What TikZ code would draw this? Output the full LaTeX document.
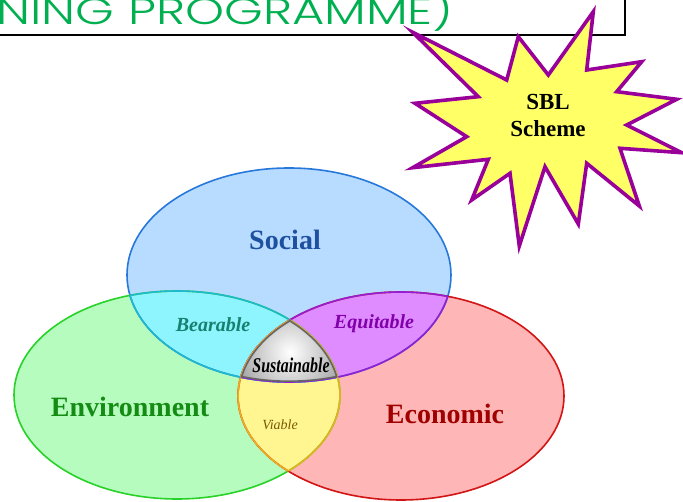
\documentclass[tikz,border=0pt]{standalone}
\usepackage{fontspec}
\setmainfont{Liberation Serif}
\newfontfamily\titlefont{Poppins}[UprightFont={* Light}]
\usepackage{xcolor}
\usetikzlibrary{positioning}

\definecolor{titlegreen}{RGB}{0,176,80}
\definecolor{starfill}{RGB}{255,255,102}
\definecolor{starline}{RGB}{153,0,153}
\definecolor{socialfill}{RGB}{184,220,255}
\definecolor{socialline}{RGB}{40,120,220}
\definecolor{socialtext}{RGB}{30,80,160}
\definecolor{envfill}{RGB}{181,252,190}
\definecolor{envline}{RGB}{40,210,40}
\definecolor{envtext}{RGB}{20,140,20}
\definecolor{econfill}{RGB}{255,182,182}
\definecolor{econline}{RGB}{210,20,20}
\definecolor{econtext}{RGB}{160,0,0}
\definecolor{bearfill}{RGB}{142,245,255}
\definecolor{bearline}{RGB}{30,185,205}
\definecolor{beartext}{RGB}{20,130,110}
\definecolor{equifill}{RGB}{222,140,255}
\definecolor{equiline}{RGB}{150,30,210}
\definecolor{equitext}{RGB}{130,0,170}
\definecolor{viafill}{RGB}{255,245,145}
\definecolor{vialine}{RGB}{235,175,30}
\definecolor{viatext}{RGB}{120,90,0}

\def\socialshape{(289,275) ellipse [x radius=162, y radius=107]}
\def\envshape{(177,395) ellipse [x radius=163, y radius=104]}
\def\econshape{(401,396) ellipse [x radius=163, y radius=104]}

\begin{document}
\begin{tikzpicture}[x=1pt, y=-1pt,
		biglabel/.style={font=\bfseries\fontsize{28}{30}\selectfont, inner sep=0},
		midlabel/.style={font=\bfseries\itshape\fontsize{20}{22}\selectfont, inner sep=0},
		ring/.style={line width=1.6}]
				\useasboundingbox (0,0) rectangle (683,502);
				
				%Title box
				\draw[line width=1.8, fill=white] (-10,-10) rectangle (625,35);
				\node[anchor=base east, text=titlegreen, inner sep=0, xscale=1.34,
					font=\titlefont\fontsize{37}{37}\selectfont] (title) at (454,25) {NING PROGRAMME)};
				
				%Star
				\filldraw[fill=starfill, draw=starline, line width=3.6, line join=miter]
					(412.7,32.3) -- (506.7,80) -- (518.3,36.7) -- (548.3,75) -- (593.3,11.7)
					-- (586.7,70) -- (641.7,61.7) -- (616.7,91.7) -- (676.7,99.3) -- (626.7,125)
					-- (681.7,152.7) -- (620,148.3) -- (639.3,206) -- (586.7,163.3) -- (578.3,224)
					-- (545,166.7) -- (519.3,246) -- (510,173.3) -- (471.7,200) -- (488.3,159.3)
					-- (412.7,167.7) -- (466.7,136.7) -- (415,103.3) -- (478.3,96.7) -- cycle;
				\node[align=center, font=\bfseries\fontsize{23}{27}\selectfont, inner sep=0] (sbl) at (548,116) {SBL\\Scheme};
				
				%Circles
				\fill[socialfill] \socialshape;
				\fill[envfill] \envshape;
				\fill[econfill] \econshape;
				
				%Overlaps
				\begin{scope}
					\clip \socialshape;
					\fill[bearfill] \envshape;
					\fill[equifill] \econshape;
				\end{scope}
				\begin{scope}
					\clip \envshape;
					\fill[viafill] \econshape;
				\end{scope}
				\begin{scope}
					\clip \socialshape;
					\clip \envshape;
					\clip \econshape;
					\shade[inner color=white, outer color=gray!85] (290,352) circle (66);
				\end{scope}
				
				%Outlines
				\draw[ring, socialline] \socialshape;
				\draw[ring, envline] \envshape;
				\draw[ring, econline] \econshape;
				\begin{scope}
					\clip \socialshape;
					\draw[ring, bearline] \envshape;
					\draw[ring, equiline] \econshape;
				\end{scope}
				\begin{scope}
					\clip \envshape;
					\draw[ring, bearline] \socialshape;
					\draw[ring, vialine] \econshape;
				\end{scope}
				\begin{scope}
					\clip \econshape;
					\draw[ring, equiline] \socialshape;
					\draw[ring, vialine] \envshape;
				\end{scope}
				\begin{scope}
					\clip \socialshape;
					\clip \envshape;
					\clip \econshape;
					\draw[line width=3.2, gray!80!black] \socialshape;
					\draw[line width=3.2, gray!80!black] \envshape;
					\draw[line width=3.2, gray!80!black] \econshape;
				\end{scope}
				
				%Labels
				\node[biglabel, text=socialtext] (social) at (285,240) {Social};
				\node[biglabel, text=envtext] (env) at (130,407) {Environment};
				\node[biglabel, text=econtext] (econ) at (445,414) {Economic};
				\node[midlabel, text=beartext] (bear) at (213,325) {Bearable};
				\node[midlabel, text=equitext] (equi) at (374,324) {Equitable};
				\node[midlabel, font=\bfseries\itshape\fontsize{21}{22}\selectfont, xscale=0.76] (sust) at (291,365) {Sustainable};
				\node[font=\itshape\fontsize{14}{16}\selectfont, text=viatext, inner sep=0] (via) at (280,425) {Viable};
			\end{tikzpicture}
\end{document}
